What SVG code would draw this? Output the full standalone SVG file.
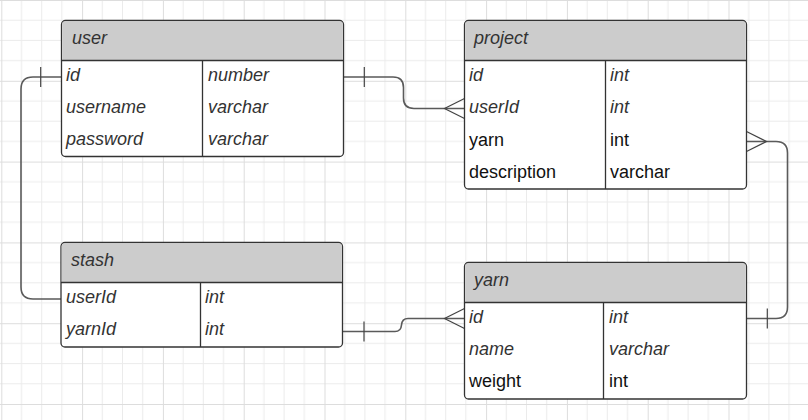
<svg xmlns="http://www.w3.org/2000/svg" width="808" height="420" viewBox="0 0 808 420">
<defs>
<pattern id="grid" patternUnits="userSpaceOnUse" x="1.3" y="0" width="80.8" height="80.8">
<path d="M20.2,0V80.8M40.4,0V80.8M60.6,0V80.8M0,20.2H80.8M0,40.4H80.8M0,60.6H80.8" stroke="#ebebeb" stroke-width="1" fill="none"/>
<path d="M0.5,0V80.8M0,0.5H80.8" stroke="#dddddd" stroke-width="1" fill="none"/>
</pattern>
<style>
.box{fill:#ffffff;stroke:#333333;stroke-width:1.3}
.hdr{fill:#cccccc}
.ln{stroke:#333333;stroke-width:1.3;fill:none}
text{font-family:"Liberation Sans",Arial,sans-serif;font-size:18px}
.it{font-style:italic;fill:#333333}
.rg{fill:#111111}
.con{stroke:#5a5a5a;stroke-width:1.6;fill:none}
.mk{stroke:#444444;stroke-width:1.2;fill:none}
</style>
</defs>
<rect width="808" height="420" fill="#ffffff"/>
<rect width="808" height="420" fill="url(#grid)"/>

<g id="connectors">
<path class="con" d="M343.5,77 H393 Q403.5,77 403.5,87.5 V98 Q403.5,108.5 414,108.5 H464.5"/>
<path class="mk" d="M364.3,67 V87 M464.5,98.5 L444.5,108.5 L464.5,118.5"/>
<path class="con" d="M61.5,77 H33 Q21,77 21,89 V287 Q21,299 33,299 H61"/>
<path class="mk" d="M40.7,67 V87"/>
<path class="con" d="M342.5,331.5 H395 Q401,331.5 401.5,325 Q402,318.5 408,318.5 H464.5"/>
<path class="mk" d="M364,321.5 V341.5 M464.5,308.5 L444.5,318.5 L464.5,328.5"/>
<path class="con" d="M746.5,318.5 H776 Q787.5,318.5 787.5,307 V153 Q787.5,141.5 776,141.5 H746.5"/>
<path class="mk" d="M767.3,308.5 V328.5 M746.5,131.5 L766.5,141.5 L746.5,151.5"/>
</g>

<g id="user">
<rect class="box" x="61.5" y="20.5" width="282" height="136" rx="4"/>
<path class="hdr" d="M65.5,21.2 H339.5 Q342.8,21.2 342.8,24.5 V60.5 H62.2 V24.5 Q62.2,21.2 65.5,21.2Z"/>
<path class="ln" d="M61.5,60.5 H343.5 M202.5,60.5 V156.5"/>
<text class="it" x="72" y="44">user</text>
<text class="it" x="66" y="81">id</text>
<text class="it" x="208" y="81">number</text>
<text class="it" x="66" y="113">username</text>
<text class="it" x="208" y="113">varchar</text>
<text class="it" x="66" y="145">password</text>
<text class="it" x="208" y="145">varchar</text>
</g>

<g id="project">
<rect class="box" x="464.5" y="20.5" width="282" height="168.5" rx="4"/>
<path class="hdr" d="M468.5,21.2 H742.5 Q745.8,21.2 745.8,24.5 V60.5 H465.2 V24.5 Q465.2,21.2 468.5,21.2Z"/>
<path class="ln" d="M464.5,60.5 H746.5 M605.5,60.5 V189"/>
<text class="it" x="474" y="44">project</text>
<text class="it" x="469" y="81">id</text>
<text class="it" x="610" y="81">int</text>
<text class="it" x="469" y="113">userId</text>
<text class="it" x="610" y="113">int</text>
<text class="rg" x="469" y="145.5">yarn</text>
<text class="rg" x="610" y="145.5">int</text>
<text class="rg" x="469" y="177.5">description</text>
<text class="rg" x="610" y="177.5">varchar</text>
</g>

<g id="stash">
<rect class="box" x="61" y="242.5" width="281.5" height="104.5" rx="4"/>
<path class="hdr" d="M65,243.2 H338.5 Q341.8,243.2 341.8,246.5 V282.5 H61.7 V246.5 Q61.7,243.2 65,243.2Z"/>
<path class="ln" d="M61,282.5 H342.5 M200.5,282.5 V347"/>
<text class="it" x="71" y="266">stash</text>
<text class="it" x="66" y="303">userId</text>
<text class="it" x="205" y="303">int</text>
<text class="it" x="66" y="335">yarnId</text>
<text class="it" x="205" y="335">int</text>
</g>

<g id="yarn">
<rect class="box" x="464.5" y="262.5" width="282" height="136.5" rx="4"/>
<path class="hdr" d="M468.5,263.2 H742.5 Q745.8,263.2 745.8,266.5 V302.5 H465.2 V266.5 Q465.2,263.2 468.5,263.2Z"/>
<path class="ln" d="M464.5,302.5 H746.5 M603.5,302.5 V399"/>
<text class="it" x="474" y="286">yarn</text>
<text class="it" x="469" y="323">id</text>
<text class="it" x="609" y="323">int</text>
<text class="it" x="469" y="355">name</text>
<text class="it" x="609" y="355">varchar</text>
<text class="rg" x="469" y="387">weight</text>
<text class="rg" x="609" y="387">int</text>
</g>
</svg>
